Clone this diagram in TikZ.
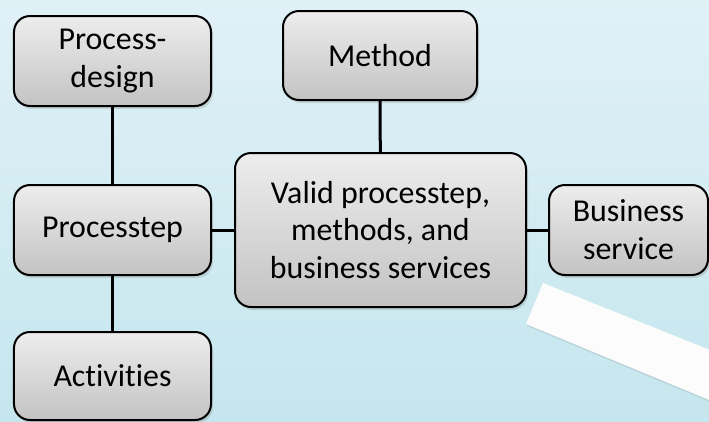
\documentclass[tikz,border=0pt]{standalone}
\usepackage{fontspec}
\setmainfont{Carlito}[Ligatures={NoCommon}]
\usepackage{tikz}
\usetikzlibrary{shadows}
\definecolor{bgtop}{HTML}{E0F1F6}
\definecolor{bgbot}{HTML}{C5E6EE}
\definecolor{bxtop}{HTML}{EDEDED}
\definecolor{bxbot}{HTML}{C3C3C3}
\tikzset{
    boks/.style={
           rectangle,
           rounded corners=16bp,
           draw=black, line width=2bp,
           top color=bxtop, bottom color=bxbot,
           drop shadow={opacity=0.25, shadow xshift=2bp, shadow yshift=-3bp},
           align=center,
           inner sep=0pt,
           font=\fontsize{32}{38}\selectfont},
    boksw/.style={boks, minimum width=197bp, minimum height=90bp},
    linje/.style={-, black, line width=3bp}
    }
\begin{document}
\begin{tikzpicture}[x=1bp,y=-1bp]
      \clip (0,0) rectangle (709,421);
      \shade[top color=bgtop, bottom color=bgbot] (0,0) rectangle (709,421);
      % papirstrimmel
      \fill[white!98!gray, drop shadow={opacity=0.2, shadow xshift=1bp, shadow yshift=-2bp}]
           (543,283) -- (760,370) -- (760,421) -- (526,324) -- cycle;
      \node[boks, minimum width=291bp, minimum height=154bp] (0) at (380.5,230) {Valid processtep,\\ methods, and\\ business services};
      \node[boksw] (1) at (112.5,61) {Process-\\ design};
      \node[boks, minimum width=194bp, minimum height=89bp] (2) at (380,55.5) {Method};
      \node[boksw] (3) at (112.5,230) {Processtep};
      \node[boks, minimum width=159bp, minimum height=90bp] (4) at (628.5,230) {Business\\ service};
      \node[boksw, minimum height=88bp] (5) at (112.5,376) {Activities};
      \draw[linje] (1) -- (3);
      \draw[linje] (3) -- (5);
      \draw[linje] (2) -- (0);
      \draw[linje] (3) -- (0);
      \draw[linje] (0) -- (4);
\end{tikzpicture}
\end{document}
